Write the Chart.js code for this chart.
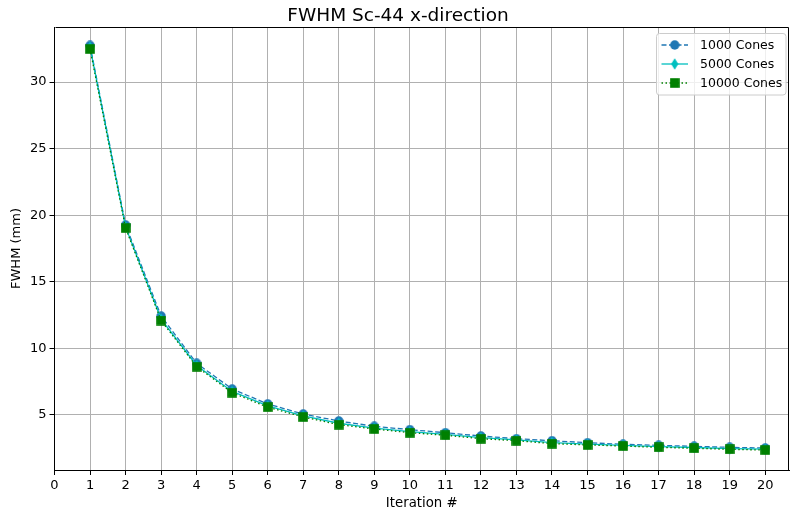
<!DOCTYPE html>
<html>
<head>
<meta charset="utf-8">
<script src="https://cdn.jsdelivr.net/npm/chart.js@4.4.1/dist/chart.umd.min.js"></script>
<style>
  html, body { margin: 0; padding: 0; background: #fff; }
  #wrap { width: 790px; height: 514px; position: relative; }
</style>
</head>
<body>
<div id="wrap"><canvas id="c" width="790" height="514"></canvas></div>
<script>
const iterations = [1,2,3,4,5,6,7,8,9,10,11,12,13,14,15,16,17,18,19,20];
const cones1000  = [32.75,19.26,12.43,8.88,6.95,5.83,5.07,4.55,4.15,3.90,3.67,3.42,3.22,3.07,2.92,2.80,2.72,2.65,2.57,2.52];
const cones5000  = [32.62,19.12,12.20,8.72,6.77,5.68,4.93,4.38,4.02,3.75,3.55,3.30,3.13,2.93,2.81,2.72,2.63,2.56,2.48,2.43];
const cones10000 = [32.48,19.04,12.09,8.63,6.67,5.59,4.85,4.27,3.95,3.67,3.48,3.22,3.07,2.85,2.75,2.67,2.57,2.50,2.42,2.37];
const seriesNames = ['1000 Cones', '5000 Cones', '10000 Cones'];
const xTicks = [0,1,2,3,4,5,6,7,8,9,10,11,12,13,14,15,16,17,18,19,20];
const yTicks = [5,10,15,20,25,30];
const titleText = 'FWHM Sc-44 x-direction';

const FONT = "'DejaVu Sans', sans-serif";

function makeMarker(kind, color) {
  const cv = document.createElement('canvas');
  let w, h;
  if (kind === 'circle') { w = 10; h = 10; }
  else if (kind === 'square') { w = 10; h = 10; }
  else { w = 8; h = 12; }
  cv.width = w; cv.height = h;
  const c = cv.getContext('2d');
  c.fillStyle = color;
  c.beginPath();
  if (kind === 'circle') {
    c.arc(5, 5, 4.7, 0, Math.PI * 2);
  } else if (kind === 'square') {
    c.rect(0.2, 0.2, 9.6, 9.6);
  } else {
    c.moveTo(4, 0.2); c.lineTo(7.6, 6); c.lineTo(4, 11.8); c.lineTo(0.4, 6); c.closePath();
  }
  c.fill();
  return cv;
}

const colors = ['#1f77b4', '#00bfbf', '#008000'];
const markers = [makeMarker('circle', colors[0]), makeMarker('diamond', colors[1]), makeMarker('square', colors[2])];
const dashes = [[5, 2.5], [], [1.5, 2.5]];

function pts(arr) { return iterations.map((x, i) => ({ x: x, y: arr[i] })); }

const decorPlugin = {
  id: 'mplDecor',
  afterDraw(chart) {
    const ctx = chart.ctx;
    const ca = chart.chartArea;
    ctx.save();
    ctx.strokeStyle = '#000';
    ctx.lineWidth = 1;
    ctx.beginPath();
    ctx.moveTo(Math.round(ca.left) + 0.5, Math.round(ca.top) + 0.5);
    ctx.lineTo(Math.round(ca.right) - 0.5, Math.round(ca.top) + 0.5);
    ctx.lineTo(Math.round(ca.right) - 0.5, Math.round(ca.bottom) + 0.5);
    ctx.stroke();

    ctx.fillStyle = '#000';
    ctx.font = '18.5px ' + FONT;
    ctx.textAlign = 'center';
    ctx.textBaseline = 'alphabetic';
    ctx.fillText(titleText, 398, 20.5);

    const bx = 656.5, by = 33.5, bw = 129.5, bh = 61.5, r = 3;
    ctx.fillStyle = 'rgba(255,255,255,0.8)';
    ctx.strokeStyle = '#cccccc';
    ctx.beginPath();
    ctx.moveTo(bx + r, by);
    ctx.arcTo(bx + bw, by, bx + bw, by + bh, r);
    ctx.arcTo(bx + bw, by + bh, bx, by + bh, r);
    ctx.arcTo(bx, by + bh, bx, by, r);
    ctx.arcTo(bx, by, bx + bw, by, r);
    ctx.closePath();
    ctx.fill();
    ctx.stroke();

    const rows = [45, 64, 83];
    for (let i = 0; i < 3; i++) {
      const y = rows[i];
      ctx.strokeStyle = colors[i];
      ctx.lineWidth = 1.3;
      ctx.setLineDash(dashes[i]);
      ctx.beginPath();
      ctx.moveTo(661.5, y);
      ctx.lineTo(688, y);
      ctx.stroke();
      ctx.setLineDash([]);
      const m = markers[i];
      ctx.drawImage(m, 674.7 - m.width / 2, y - m.height / 2);
      ctx.fillStyle = '#000';
      ctx.font = '12.5px ' + FONT;
      ctx.textBaseline = 'middle';
      ctx.textAlign = 'left';
      ctx.fillText(seriesNames[i], 700, y + 0.5);
    }
    ctx.restore();
  }
};

const data = {
  datasets: [cones1000, cones5000, cones10000].map((arr, i) => ({
    label: seriesNames[i],
    data: pts(arr),
    borderColor: colors[i],
    backgroundColor: colors[i],
    borderWidth: 1.3,
    borderDash: dashes[i],
    pointStyle: markers[i],
    pointRadius: 5,
    pointHoverRadius: 5,
    tension: 0,
    fill: false,
    order: 3 - i
  }))
};

new Chart(document.getElementById('c'), {
  type: 'line',
  data: data,
  plugins: [decorPlugin],
  options: {
    responsive: false,
    animation: false,
    devicePixelRatio: 1,
    layout: { autoPadding: false, padding: { left: 0, right: 1, top: 27, bottom: 0 } },
    plugins: {
      legend: { display: false },
      tooltip: { enabled: false },
      title: { display: false }
    },
    scales: {
      x: {
        type: 'linear',
        min: 0,
        max: 20.67,
        afterBuildTicks: (s) => { s.ticks = xTicks.map(v => ({ value: v })); },
        afterFit: (s) => { s.height = 44; s.paddingLeft = 0; s.paddingRight = 0; },
        ticks: {
          color: '#000',
          font: { family: FONT, size: 13 },
          padding: 3,
          maxRotation: 0,
          autoSkip: false,
          callback: (v) => String(v)
        },
        grid: { color: '#b0b0b0', lineWidth: 1, tickColor: '#000', tickLength: 5, drawTicks: true },
        border: { display: true, color: '#000', width: 1 },
        title: {
          display: true,
          text: 'Iteration #',
          color: '#000',
          font: { family: FONT, size: 13.3 },
          padding: { top: 0, bottom: 2 }
        }
      },
      y: {
        type: 'linear',
        min: 0.87,
        max: 34.13,
        afterBuildTicks: (s) => { s.ticks = yTicks.map(v => ({ value: v })); },
        afterFit: (s) => { s.width = 54.5; s.paddingTop = 0; s.paddingBottom = 0; },
        ticks: {
          color: '#000',
          font: { family: FONT, size: 13 },
          padding: 3,
          autoSkip: false,
          callback: (v) => String(v)
        },
        grid: { color: '#b0b0b0', lineWidth: 1, tickColor: '#000', tickLength: 5, drawTicks: true },
        border: { display: true, color: '#000', width: 1 },
        title: {
          display: true,
          text: 'FWHM (mm)',
          color: '#000',
          font: { family: FONT, size: 13 },
          padding: { top: 9, bottom: 0 }
        }
      }
    }
  }
});
</script>
</body>
</html>
